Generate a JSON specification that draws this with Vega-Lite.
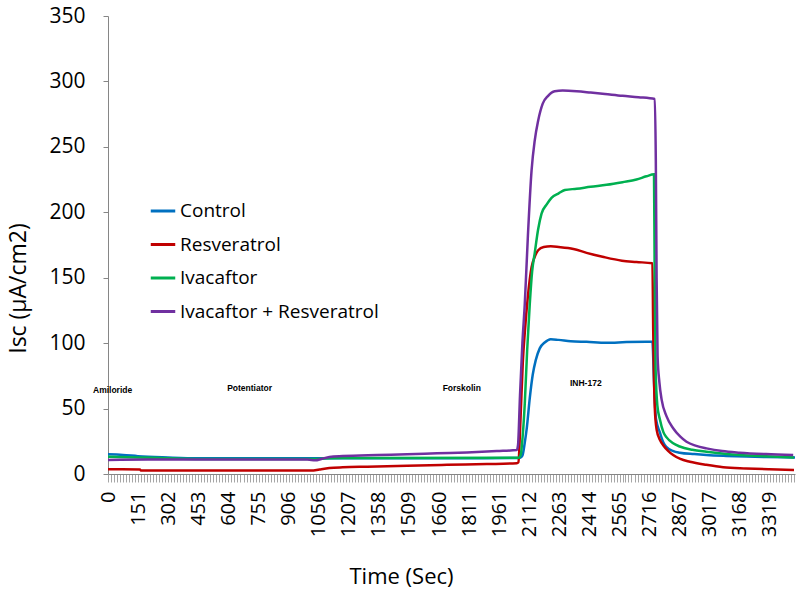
{
 "$schema": "https://vega.github.io/schema/vega-lite/v6.json",
 "width": 687,
 "height": 458,
 "autosize": {"type": "none"},
 "padding": {"left": 108, "top": 16, "right": 5, "bottom": 121},
 "background": "white",
 "config": {"view": {"stroke": null}, "font": "Open Sans"},
 "datasets": {
  "curves": [
   {"s":"Control","t":0,"v":15},{"s":"Control","t":75,"v":14.6},{"s":"Control","t":150,"v":13.6},{"s":"Control","t":300,"v":12.6},{"s":"Control","t":450,"v":12},{"s":"Control","t":1050,"v":12},{"s":"Control","t":1200,"v":12},{"s":"Control","t":2065,"v":12.2},{"s":"Control","t":2078,"v":14},{"s":"Control","t":2090,"v":24},{"s":"Control","t":2100,"v":35},{"s":"Control","t":2115,"v":58},{"s":"Control","t":2130,"v":76},{"s":"Control","t":2145,"v":87},{"s":"Control","t":2165,"v":96},{"s":"Control","t":2190,"v":100.5},{"s":"Control","t":2220,"v":103},{"s":"Control","t":2260,"v":102.5},{"s":"Control","t":2320,"v":101.5},{"s":"Control","t":2400,"v":101},{"s":"Control","t":2500,"v":100.3},{"s":"Control","t":2600,"v":100.8},{"s":"Control","t":2700,"v":101},{"s":"Control","t":2730,"v":101},{"s":"Control","t":2738,"v":70},{"s":"Control","t":2748,"v":42},{"s":"Control","t":2767,"v":32},{"s":"Control","t":2785,"v":24},{"s":"Control","t":2801,"v":20.5},{"s":"Control","t":2835,"v":17.5},{"s":"Control","t":2867,"v":16.3},{"s":"Control","t":2940,"v":15.2},{"s":"Control","t":3001,"v":14.5},{"s":"Control","t":3100,"v":13.8},{"s":"Control","t":3200,"v":13.3},{"s":"Control","t":3300,"v":13},{"s":"Control","t":3445,"v":12.7},
   {"s":"Resveratrol","t":0,"v":3.6},{"s":"Resveratrol","t":160,"v":3.5},{"s":"Resveratrol","t":165,"v":2.6},{"s":"Resveratrol","t":600,"v":2.6},{"s":"Resveratrol","t":1020,"v":2.6},{"s":"Resveratrol","t":1060,"v":3.5},{"s":"Resveratrol","t":1110,"v":4.5},{"s":"Resveratrol","t":1177,"v":5.1},{"s":"Resveratrol","t":1300,"v":5.6},{"s":"Resveratrol","t":1500,"v":6.3},{"s":"Resveratrol","t":1700,"v":7},{"s":"Resveratrol","t":1900,"v":7.6},{"s":"Resveratrol","t":2050,"v":8.2},{"s":"Resveratrol","t":2058,"v":9},{"s":"Resveratrol","t":2068,"v":40},{"s":"Resveratrol","t":2080,"v":85},{"s":"Resveratrol","t":2090,"v":108},{"s":"Resveratrol","t":2105,"v":135},{"s":"Resveratrol","t":2124,"v":158},{"s":"Resveratrol","t":2140,"v":166},{"s":"Resveratrol","t":2157,"v":171},{"s":"Resveratrol","t":2185,"v":173.5},{"s":"Resveratrol","t":2220,"v":174},{"s":"Resveratrol","t":2260,"v":173.5},{"s":"Resveratrol","t":2334,"v":172},{"s":"Resveratrol","t":2400,"v":169},{"s":"Resveratrol","t":2480,"v":166},{"s":"Resveratrol","t":2577,"v":163},{"s":"Resveratrol","t":2650,"v":162},{"s":"Resveratrol","t":2730,"v":161},{"s":"Resveratrol","t":2734,"v":110},{"s":"Resveratrol","t":2742,"v":50},{"s":"Resveratrol","t":2751,"v":34},{"s":"Resveratrol","t":2768,"v":26},{"s":"Resveratrol","t":2784,"v":22},{"s":"Resveratrol","t":2810,"v":17.5},{"s":"Resveratrol","t":2834,"v":14.5},{"s":"Resveratrol","t":2870,"v":11.5},{"s":"Resveratrol","t":2918,"v":9.4},{"s":"Resveratrol","t":3000,"v":7},{"s":"Resveratrol","t":3085,"v":5.1},{"s":"Resveratrol","t":3200,"v":4.2},{"s":"Resveratrol","t":3315,"v":3.6},{"s":"Resveratrol","t":3440,"v":3.1},
   {"s":"Ivacaftor","t":0,"v":13.2},{"s":"Ivacaftor","t":150,"v":12.7},{"s":"Ivacaftor","t":300,"v":12},{"s":"Ivacaftor","t":460,"v":11.5},{"s":"Ivacaftor","t":1050,"v":11.5},{"s":"Ivacaftor","t":1110,"v":12},{"s":"Ivacaftor","t":1177,"v":12.2},{"s":"Ivacaftor","t":2060,"v":12.5},{"s":"Ivacaftor","t":2070,"v":15},{"s":"Ivacaftor","t":2080,"v":30},{"s":"Ivacaftor","t":2090,"v":54},{"s":"Ivacaftor","t":2102,"v":95},{"s":"Ivacaftor","t":2115,"v":130},{"s":"Ivacaftor","t":2127,"v":155},{"s":"Ivacaftor","t":2140,"v":169},{"s":"Ivacaftor","t":2157,"v":187},{"s":"Ivacaftor","t":2174,"v":199},{"s":"Ivacaftor","t":2200,"v":206},{"s":"Ivacaftor","t":2224,"v":211},{"s":"Ivacaftor","t":2260,"v":214.5},{"s":"Ivacaftor","t":2291,"v":217},{"s":"Ivacaftor","t":2350,"v":218},{"s":"Ivacaftor","t":2420,"v":219.5},{"s":"Ivacaftor","t":2500,"v":221},{"s":"Ivacaftor","t":2580,"v":223},{"s":"Ivacaftor","t":2650,"v":225},{"s":"Ivacaftor","t":2700,"v":227.5},{"s":"Ivacaftor","t":2738,"v":229},{"s":"Ivacaftor","t":2741,"v":160},{"s":"Ivacaftor","t":2746,"v":80},{"s":"Ivacaftor","t":2755,"v":52},{"s":"Ivacaftor","t":2767,"v":42},{"s":"Ivacaftor","t":2785,"v":32},{"s":"Ivacaftor","t":2801,"v":28},{"s":"Ivacaftor","t":2834,"v":23.5},{"s":"Ivacaftor","t":2867,"v":21},{"s":"Ivacaftor","t":2930,"v":18.5},{"s":"Ivacaftor","t":3001,"v":17},{"s":"Ivacaftor","t":3090,"v":15.5},{"s":"Ivacaftor","t":3168,"v":14.5},{"s":"Ivacaftor","t":3300,"v":13.5},{"s":"Ivacaftor","t":3440,"v":12.7},
   {"s":"Ivacaftor + Resveratrol","t":0,"v":10.7},{"s":"Ivacaftor + Resveratrol","t":200,"v":11},{"s":"Ivacaftor + Resveratrol","t":460,"v":11},{"s":"Ivacaftor + Resveratrol","t":1000,"v":11},{"s":"Ivacaftor + Resveratrol","t":1040,"v":10.5},{"s":"Ivacaftor + Resveratrol","t":1070,"v":11.5},{"s":"Ivacaftor + Resveratrol","t":1110,"v":13},{"s":"Ivacaftor + Resveratrol","t":1177,"v":13.7},{"s":"Ivacaftor + Resveratrol","t":1350,"v":14.5},{"s":"Ivacaftor + Resveratrol","t":1500,"v":15},{"s":"Ivacaftor + Resveratrol","t":1650,"v":15.8},{"s":"Ivacaftor + Resveratrol","t":1800,"v":16.5},{"s":"Ivacaftor + Resveratrol","t":1950,"v":17.5},{"s":"Ivacaftor + Resveratrol","t":2050,"v":18.3},{"s":"Ivacaftor + Resveratrol","t":2056,"v":22},{"s":"Ivacaftor + Resveratrol","t":2066,"v":60},{"s":"Ivacaftor + Resveratrol","t":2078,"v":100},{"s":"Ivacaftor + Resveratrol","t":2090,"v":130},{"s":"Ivacaftor + Resveratrol","t":2105,"v":180},{"s":"Ivacaftor + Resveratrol","t":2124,"v":232},{"s":"Ivacaftor + Resveratrol","t":2140,"v":255},{"s":"Ivacaftor + Resveratrol","t":2157,"v":270},{"s":"Ivacaftor + Resveratrol","t":2180,"v":283},{"s":"Ivacaftor + Resveratrol","t":2207,"v":289},{"s":"Ivacaftor + Resveratrol","t":2240,"v":292.5},{"s":"Ivacaftor + Resveratrol","t":2280,"v":293},{"s":"Ivacaftor + Resveratrol","t":2350,"v":292.5},{"s":"Ivacaftor + Resveratrol","t":2420,"v":291.5},{"s":"Ivacaftor + Resveratrol","t":2492,"v":290.4},{"s":"Ivacaftor + Resveratrol","t":2580,"v":289},{"s":"Ivacaftor + Resveratrol","t":2660,"v":288},{"s":"Ivacaftor + Resveratrol","t":2742,"v":286.6},{"s":"Ivacaftor + Resveratrol","t":2747,"v":240},{"s":"Ivacaftor + Resveratrol","t":2751,"v":150},{"s":"Ivacaftor + Resveratrol","t":2756,"v":90},{"s":"Ivacaftor + Resveratrol","t":2765,"v":70},{"s":"Ivacaftor + Resveratrol","t":2776,"v":57},{"s":"Ivacaftor + Resveratrol","t":2801,"v":44},{"s":"Ivacaftor + Resveratrol","t":2834,"v":35},{"s":"Ivacaftor + Resveratrol","t":2870,"v":28.5},{"s":"Ivacaftor + Resveratrol","t":2901,"v":24.6},{"s":"Ivacaftor + Resveratrol","t":2950,"v":21.5},{"s":"Ivacaftor + Resveratrol","t":3001,"v":19.6},{"s":"Ivacaftor + Resveratrol","t":3080,"v":17.5},{"s":"Ivacaftor + Resveratrol","t":3168,"v":16.3},{"s":"Ivacaftor + Resveratrol","t":3300,"v":15.2},{"s":"Ivacaftor + Resveratrol","t":3436,"v":14.5}
  ],
  "notes": [
   {"label":"Amiloride","t":23,"v":64},
   {"label":"Potentiator","t":710,"v":66},
   {"label":"Forskolin","t":1774,"v":66},
   {"label":"INH-172","t":2396,"v":69.5}
  ]
 },
 "layer": [
  {
   "data": {"name": "curves"},
   "mark": {"type": "line", "strokeWidth": 2.5, "interpolate": "monotone"},
   "encoding": {
    "x": {"field": "t", "type": "quantitative",
     "scale": {"domain": [0, 3445], "nice": false, "zero": false},
     "axis": {
      "values": [0,15,30,45,60,76,91,106,121,136,151,166,181,196,211,227,242,257,272,287,302,317,332,347,362,378,393,408,423,438,453,468,483,498,513,529,544,559,574,589,604,619,634,649,664,680,695,710,725,740,755,770,785,800,815,831,846,861,876,891,906,921,936,951,966,981,996,1011,1026,1041,1056,1071,1086,1101,1116,1132,1147,1162,1177,1192,1207,1222,1237,1252,1267,1283,1298,1313,1328,1343,1358,1373,1388,1403,1418,1434,1449,1464,1479,1494,1509,1524,1539,1554,1569,1585,1600,1615,1630,1645,1660,1675,1690,1705,1720,1736,1751,1766,1781,1796,1811,1826,1841,1856,1871,1886,1901,1916,1931,1946,1961,1976,1991,2006,2021,2037,2052,2067,2082,2097,2112,2127,2142,2157,2172,2188,2203,2218,2233,2248,2263,2278,2293,2308,2323,2339,2354,2369,2384,2399,2414,2429,2444,2459,2474,2490,2505,2520,2535,2550,2565,2580,2595,2610,2625,2641,2656,2671,2686,2701,2716,2731,2746,2761,2776,2792,2807,2822,2837,2852,2867,2882,2897,2912,2927,2942,2957,2972,2987,3002,3017,3032,3047,3062,3077,3093,3108,3123,3138,3153,3168,3183,3198,3213,3228,3244,3259,3274,3289,3304,3319,3334,3349,3364,3379,3395,3410,3425,3440],
      "tickCount": 1000,
      "format": "d",
      "labelExpr": "indexof([0,151,302,453,604,755,906,1056,1207,1358,1509,1660,1811,1961,2112,2263,2414,2565,2716,2867,3017,3168,3319], datum.value) >= 0 ? datum.label : ''",
      "labelAngle": -90, "labelAlign": "right", "labelBaseline": "middle",
      "labelFontSize": 20, "labelColor": "#000000", "labelPadding": 9,
      "labelOverlap": false, "labelFlush": false,
      "tickSize": 8, "tickColor": "#a6a6a6", "tickWidth": 1,
      "domainColor": "#868686", "grid": false,
      "title": "Time (Sec)", "titleFontSize": 22, "titleFontWeight": "normal", "titleColor": "#000000",
      "titleX": 293, "titleY": 102, "titleAlign": "center", "titleBaseline": "middle", "titleAngle": 0
     }
    },
    "y": {"field": "v", "type": "quantitative",
     "scale": {"domain": [0, 350], "nice": false},
     "axis": {
      "values": [0,50,100,150,200,250,300,350],
      "labelFontSize": 21, "labelColor": "#000000", "labelPadding": 18,
      "tickSize": 5, "tickColor": "#868686", "domainColor": "#868686", "grid": false,
      "title": "Isc (µA/cm2)", "titleFontSize": 23, "titleFontWeight": "normal", "titleColor": "#000000",
      "titleX": -90, "titleY": 272, "titleAngle": -90, "titleAlign": "center", "titleBaseline": "middle"
     }
    },
    "color": {"field": "s", "type": "nominal", "sort": null,
     "scale": {"domain": ["Control","Resveratrol","Ivacaftor","Ivacaftor + Resveratrol"], "range": ["#0070C0","#C00000","#00B050","#7030A0"]},
     "legend": {"orient": "none", "legendX": 41, "legendY": 181, "title": null, "padding": 0,
      "symbolType": "stroke", "symbolSize": 600, "symbolStrokeWidth": 3,
      "labelFontSize": 19, "labelFont": "Open Sans", "labelColor": "#000000", "labelOffset": 3, "labelLimit": 400, "rowPadding": 9.5}
    }
   }
  },
  {
   "data": {"name": "notes"},
   "mark": {"type": "text", "font": "Liberation Sans", "fontWeight": "bold", "fontSize": 8.5, "align": "center", "baseline": "middle", "color": "#000000"},
   "encoding": {
    "x": {"field": "t", "type": "quantitative"},
    "y": {"field": "v", "type": "quantitative"},
    "text": {"field": "label", "type": "nominal"}
   }
  }
 ]
}
